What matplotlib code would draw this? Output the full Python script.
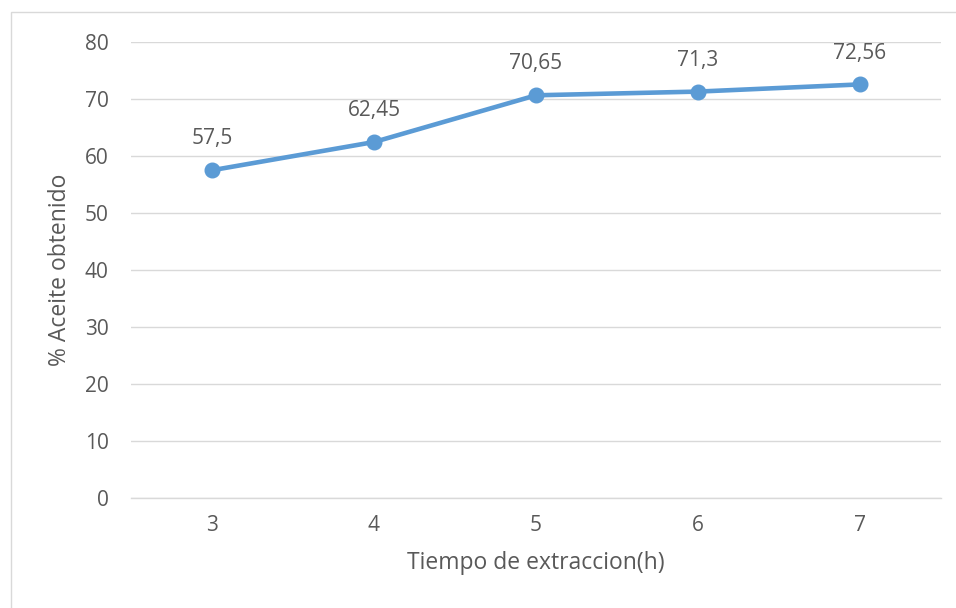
import matplotlib.pyplot as plt
import matplotlib.patches as patches

# Extraction time (h) and oil yield (%)
hours = [3, 4, 5, 6, 7]
yieldPercent = [57.5, 62.45, 70.65, 71.3, 72.56]
yieldLabels = ['57,5', '62,45', '70,65', '71,3', '72,56']
yTicks = [0, 10, 20, 30, 40, 50, 60, 70, 80]

textColor = '#595959'
lineColor = '#5B9BD5'
gridColor = '#D9D9D9'

plt.rcParams['font.family'] = ['Open Sans', 'DejaVu Sans']

fig = plt.figure(figsize=(9.56, 6.08), dpi=100)
ax = fig.add_axes([131 / 956, 1 - 498 / 608, 810 / 956, 456 / 608])

# Chart area border
fig.patches.append(patches.Rectangle((11 / 956, -0.05), 1.0, 1 - 12 / 608 + 0.05,
                                     transform=fig.transFigure, fill=False,
                                     edgecolor=gridColor, linewidth=1.0))

ax.plot(hours, yieldPercent, color=lineColor, linewidth=3.3, marker='o',
        markersize=10.5, solid_capstyle='round', zorder=3)

for x, y, label in zip(hours, yieldPercent, yieldLabels):
    ax.annotate(label, (x, y), xytext=(0, 15), textcoords='offset points',
                ha='center', va='bottom', fontsize=15, color=textColor)

ax.set_xlim(2.5, 7.5)
ax.set_ylim(0, 80)
ax.set_xticks(hours)
ax.set_yticks(yTicks)
ax.tick_params(axis='both', length=0, labelsize=15, labelcolor=textColor)
ax.tick_params(axis='x', pad=12)
ax.tick_params(axis='y', pad=16)

ax.grid(axis='y', color=gridColor, linewidth=1.0)
ax.set_axisbelow(True)
for side in ['top', 'right', 'left']:
    ax.spines[side].set_visible(False)
ax.spines['bottom'].set_color(gridColor)
ax.spines['bottom'].set_linewidth(1.0)

ax.set_xlabel('Tiempo de extraccion(h)', fontsize=16.5, color=textColor, labelpad=11)
ax.set_ylabel('% Aceite obtenido', fontsize=16.5, color=textColor, labelpad=9)

plt.savefig('out.png', dpi=100)
